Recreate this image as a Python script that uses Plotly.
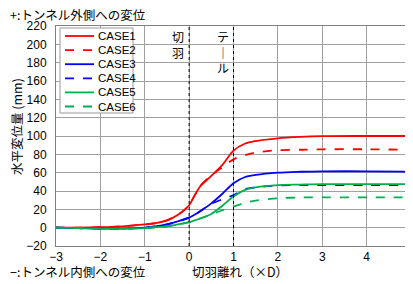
import plotly.graph_objects as go

x = [-3, -2.5, -2, -1.5, -1, -0.75, -0.5, -0.25, 0, 0.1, 0.25, 0.5, 0.75, 1, 1.25, 1.5, 2, 2.5, 3, 4, 5]
case1 = [0, 0, 0.5, 1.5, 3.5, 5, 8, 14, 24.5, 33, 45, 56.5, 68.5, 84, 91.5, 94.5, 97.5, 99, 99.8, 100, 100]
case2 = [0, 0, 0.5, 1.5, 3.5, 5, 8, 14, 24.5, 33, 45.5, 57, 66, 74.5, 79, 82, 84.5, 85, 85.5, 85.5, 85]
case3 = [0, -0.5, -1, -1, 0, 1.5, 3.5, 7, 11, 13.5, 18, 26.5, 37, 48.5, 55, 57.5, 60, 61, 61.5, 61.5, 61]
case4 = [0, -0.5, -1, -1, 0, 1.5, 3.5, 7, 11, 13.5, 18, 26, 31, 35.5, 42, 44, 46, 46.5, 46.5, 46.5, 46.5]
case5 = [0, -0.5, -1, -1, -0.5, 0.5, 1.5, 3.5, 6, 7.5, 10, 15, 24, 34, 41, 44, 46.5, 47, 47.5, 47.5, 47.5]
case6 = [0, -0.5, -1, -1, -0.5, 0.5, 1.5, 3.5, 6, 7.5, 10, 14.5, 19, 23, 27, 29.5, 32, 33, 33, 33, 33]
x_ticks = [-3, -2, -1, 0, 1, 2, 3, 4, 5]

names = ["CASE1", "CASE2", "CASE3", "CASE4", "CASE5", "CASE6"]
series = [case1, case2, case3, case4, case5, case6]
colors = ["#FF0000", "#FF0000", "#0000FF", "#0000FF", "#00B050", "#00B050"]
dashes = ["solid", "dash", "solid", "dash", "solid", "dash"]

FONT = "Liberation Sans, Arial, Noto Sans CJK JP"
JP = "Noto Sans CJK JP"

# page has an 8px body margin; compensate so the plot lands where the reference has it
OFF = 8
W, H = 413 - OFF, 284 - OFF
# desired plot area in window pixels: x 56..411, y 26..246
L, R, T, B = 56 - OFF, 413 - 411, 26 - OFF, 284 - 246
PW = W - L - R
PH = H - T - B


def px(xw):
    return (xw - OFF - L) / PW


def py(yw):
    return (H - B - (yw - OFF)) / PH


def lab(v):
    return str(v).replace("-", "−")


fig = go.Figure()
for n, s, c, d in zip(names, series, colors, dashes):
    fig.add_trace(go.Scatter(x=x, y=s, name=n, mode="lines", showlegend=False,
                             line=dict(color=c, dash=d, width=1.8, shape="spline", smoothing=0.9)))

for xv in [0, 1]:
    fig.add_shape(type="line", x0=xv, x1=xv, y0=-20, y1=220, xref="x", yref="y",
                  line=dict(color="black", width=1, dash="dot"))

# custom compact legend
fig.add_shape(type="rect", xref="paper", yref="paper", x0=px(60), x1=px(133), y0=py(113), y1=py(28),
              fillcolor="white", line=dict(color="#999999", width=1), layer="above")
for i, (n, c, d) in enumerate(zip(names, colors, dashes)):
    yy = 36 + 14.1 * i
    fig.add_shape(type="line", xref="paper", yref="paper", x0=px(65), x1=px(94), y0=py(yy), y1=py(yy),
                  line=dict(color=c, dash=d, width=1.8), layer="above")
    fig.add_annotation(text=n, xref="paper", yref="paper", x=px(96), y=py(yy),
                       xanchor="left", yanchor="middle", showarrow=False,
                       font=dict(family=FONT, size=11.5))

fig.update_layout(
    width=W, height=H,
    margin=dict(l=L, r=R, t=T, b=B),
    paper_bgcolor="white", plot_bgcolor="white",
    font=dict(family=FONT, size=12, color="black"),
    showlegend=False,
    xaxis=dict(range=[-3, 5], tickmode="array", tickvals=x_ticks,
               ticktext=[lab(v) if v != x_ticks[-1] else "" for v in x_ticks],
               showgrid=True, gridcolor="#A0A0A0", gridwidth=1,
               zeroline=False, showline=True, linecolor="#808080", mirror=True, automargin=False,
               ticks="", tickfont=dict(size=12)),
    yaxis=dict(range=[-20, 220], dtick=20, tick0=-20, showgrid=True, gridcolor="#A0A0A0", gridwidth=1,
               zeroline=False, showline=True, linecolor="#808080", mirror=True, automargin=False,
               ticks="", ticklabelstandoff=6, tickfont=dict(size=12)),
)

# last x tick label (plotly hides it at the div edge), drawn at the same place
fig.add_annotation(text=lab(x_ticks[-1]), xref="x", yref="paper", x=x_ticks[-1], y=py(257),
                   xanchor="center", yanchor="middle", showarrow=False,
                   font=dict(family=FONT, size=12))

fig.add_annotation(text="+:トンネル外側への変位", xref="paper", yref="paper", x=px(8), y=py(14),
                   xanchor="left", yanchor="middle", showarrow=False, font=dict(family=JP, size=12.5))
fig.add_annotation(text="−:トンネル内側への変位", xref="paper", yref="paper", x=px(8), y=py(271),
                   xanchor="left", yanchor="middle", showarrow=False, font=dict(family=JP, size=12.5))
fig.add_annotation(text="切羽離れ（×D）", xref="paper", yref="paper", x=px(240), y=py(271),
                   xanchor="center", yanchor="middle", showarrow=False, font=dict(family=JP, size=12.5))
fig.add_annotation(text="水平変位量 (mm)", xref="paper", yref="paper", x=px(16), y=py(127),
                   xanchor="center", yanchor="middle", textangle=-90, showarrow=False,
                   font=dict(family=JP, size=12.5))
fig.add_annotation(text="切<br>羽", xref="x", yref="paper", x=0, y=py(26), xshift=-3,
                   xanchor="right", yanchor="top", showarrow=False,
                   font=dict(family=JP, size=12))
fig.add_annotation(text="テ<br>｜<br>ル", xref="x", yref="paper", x=1, y=py(26), xshift=-3,
                   xanchor="right", yanchor="top", showarrow=False,
                   font=dict(family=JP, size=12))

fig.write_html("out.html")
